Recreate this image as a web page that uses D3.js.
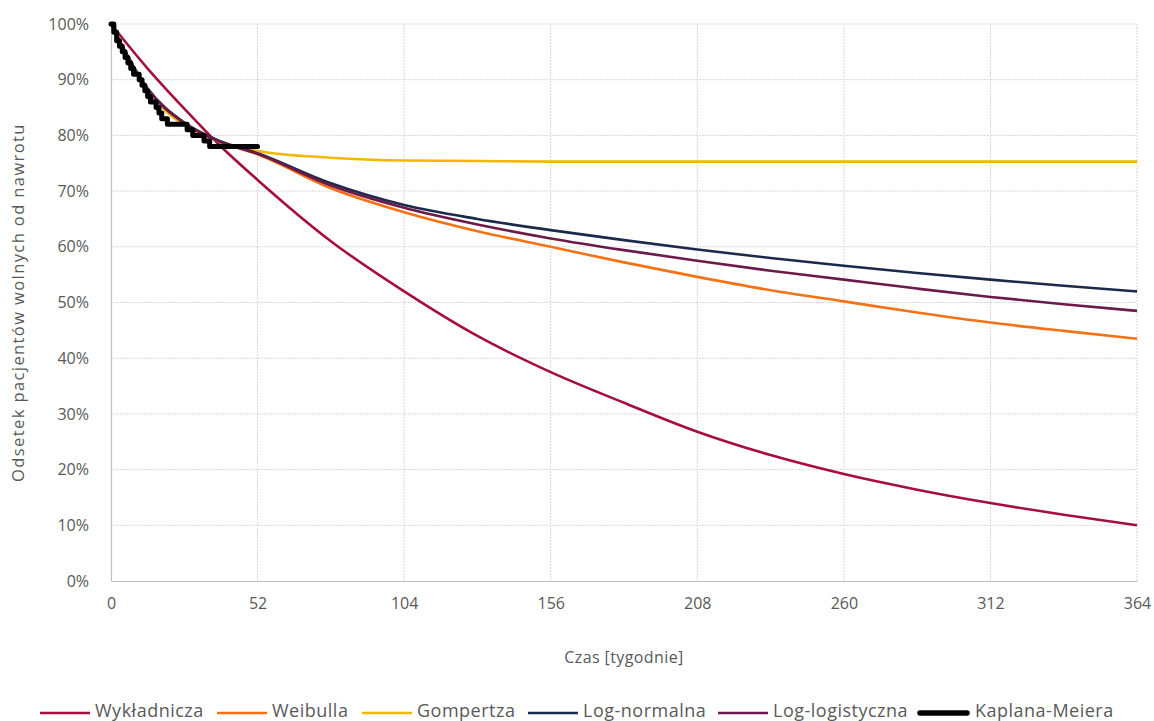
<!DOCTYPE html>
<html>
<head>
<meta charset="utf-8">
<script src="https://cdn.jsdelivr.net/npm/d3@7"></script>
<style>
  body { margin: 0; background: #fff; }
  text { font-family: "Open Sans", "Noto Sans", sans-serif; fill: #595959; }
</style>
</head>
<body>
<div id="chart"></div>
<script>
const weeks = [0, 13, 26, 39, 52, 78, 104, 130, 156, 182, 208, 234, 260, 286, 312, 338, 364];

// survival (%) per model
const wykladnicza = [100, 92, 84.8, 78, 72, 61, 52, 44, 37.5, 32, 26.8, 22.6, 19.2, 16.4, 14, 11.9, 10];
const weibulla = [100, 88.2, 82.2, 78.8, 76.6, 70.5, 66.2, 62.8, 60, 57.2, 54.6, 52.2, 50.2, 48.2, 46.4, 44.9, 43.5];
const gompertza = [100, 88, 81.8, 78.8, 77.2, 76, 75.5, 75.4, 75.3, 75.3, 75.3, 75.3, 75.3, 75.3, 75.3, 75.3, 75.3];
const logNormalna = [100, 88.4, 82.3, 78.9, 76.8, 71.4, 67.5, 65, 63, 61.2, 59.5, 58, 56.6, 55.3, 54.1, 53, 52];
const logLogistyczna = [100, 88.3, 82.2, 78.8, 76.7, 71, 67, 64, 61.5, 59.4, 57.5, 55.7, 54.1, 52.5, 51, 49.7, 48.5];

// Kaplan-Meier steps (week, survival %)
const kmWeeks = [0, 1, 2, 3, 4, 5, 6, 7, 8, 10, 11, 12, 13, 14, 16, 17, 18, 20, 27, 29, 33, 35, 52];
const kmValues = [100, 98.5, 97, 96, 95, 94, 93, 92, 91, 90, 89, 88, 87, 86, 85, 84, 83, 82, 81, 80, 79, 78, 78];

const series = [
  { name: "Wykładnicza", values: wykladnicza, color: "#a50f3c" },
  { name: "Weibulla", values: weibulla, color: "#f57214" },
  { name: "Gompertza", values: gompertza, color: "#f2b705" },
  { name: "Log-normalna", values: logNormalna, color: "#1b2a4a" },
  { name: "Log-logistyczna", values: logLogistyczna, color: "#6b1a4a" },
];

const xTicks = [0, 52, 104, 156, 208, 260, 312, 364];
const yTicks = d3.range(0, 101, 10);

const config = {
  width: 1154,
  height: 721,
  margin: { top: 24, right: 17, bottom: 140, left: 111 },
};

const width = config.width - config.margin.left - config.margin.right;
const height = config.height - config.margin.top - config.margin.bottom;

const root = d3.select("#chart").append("svg")
  .attr("width", config.width)
  .attr("height", config.height);

const svg = root.append("g")
  .attr("transform", `translate(${config.margin.left},${config.margin.top})`);

const x = d3.scaleLinear().domain([0, 364]).range([0, width]);
const y = d3.scaleLinear().domain([0, 100]).range([height, 0]);

// gridlines
svg.append("g")
  .selectAll("line.h")
  .data(yTicks.filter((d) => d > 0))
  .join("line")
  .attr("x1", 0).attr("x2", width)
  .attr("y1", (d) => y(d)).attr("y2", (d) => y(d))
  .attr("stroke", "#d9d9d9")
  .attr("stroke-dasharray", "2,1");

svg.append("g")
  .selectAll("line.v")
  .data(xTicks.filter((d) => d > 0))
  .join("line")
  .attr("x1", (d) => x(d)).attr("x2", (d) => x(d))
  .attr("y1", 0).attr("y2", height)
  .attr("stroke", "#d9d9d9")
  .attr("stroke-dasharray", "2,1");

// axes
const xAxis = svg.append("g")
  .attr("transform", `translate(0,${height})`)
  .call(d3.axisBottom(x).tickValues(xTicks).tickSize(0).tickPadding(17));
xAxis.select(".domain").attr("stroke", "#bfbfbf").attr("stroke-width", 1.2);
xAxis.selectAll("text").style("font-size", "16px").attr("fill", "#595959");

const yAxis = svg.append("g")
  .call(d3.axisLeft(y).tickValues(yTicks).tickFormat((d) => d + "%").tickSize(0).tickPadding(22));
yAxis.select(".domain").attr("stroke", "#bfbfbf").attr("stroke-width", 1.2);
yAxis.selectAll("text").style("font-size", "16px").attr("fill", "#595959");

// axis titles
root.append("text")
  .attr("x", config.margin.left + width / 2)
  .attr("y", 663)
  .attr("text-anchor", "middle")
  .style("font-size", "16px")
  .style("letter-spacing", "0.4px")
  .text("Czas [tygodnie]");

root.append("text")
  .attr("transform", `translate(24,${config.margin.top + height / 2}) rotate(-90)`)
  .attr("text-anchor", "middle")
  .style("font-size", "16.5px")
  .style("letter-spacing", "1.4px")
  .text("Odsetek pacjentów wolnych od nawrotu");

// fitted curves
const line = d3.line()
  .x((d, i) => x(weeks[i]))
  .y((d) => y(d))
  .curve(d3.curveMonotoneX);

svg.append("g")
  .selectAll("path")
  .data(series)
  .join("path")
  .attr("d", (s) => line(s.values))
  .attr("fill", "none")
  .attr("stroke", (s) => s.color)
  .attr("stroke-width", 2.6);

// Kaplan-Meier
const kmLine = d3.line()
  .x((d, i) => x(kmWeeks[i]))
  .y((d) => y(d))
  .curve(d3.curveStepAfter);

svg.append("path")
  .attr("d", kmLine(kmValues))
  .attr("fill", "none")
  .attr("stroke", "#000")
  .attr("stroke-width", 5)
  .attr("stroke-linecap", "round")
  .attr("stroke-linejoin", "round");

// legend
const legendItems = [
  ...series.map((s) => ({ name: s.name, color: s.color, w: 2.6 })),
  { name: "Kaplana-Meiera", color: "#000", w: 5.5 },
];
const legendX = [40, 217, 362, 528, 718, 917];
const legend = root.append("g").attr("transform", "translate(0,713)");
legendItems.forEach((d, i) => {
  const g = legend.append("g").attr("transform", `translate(${legendX[i]},0)`);
  const len = d.w > 3 ? 53 : 50;
  g.append("line")
    .attr("x1", d.w > 3 ? 3 : 0).attr("x2", len - (d.w > 3 ? 3 : 0))
    .attr("y1", 0).attr("y2", 0)
    .attr("stroke", d.color)
    .attr("stroke-width", d.w)
    .attr("stroke-linecap", d.w > 3 ? "round" : "butt");
  g.append("text")
    .attr("x", len + 5)
    .attr("y", -2)
    .attr("dy", "0.35em")
    .style("font-size", "18px")
    .style("letter-spacing", "0.5px")
    .text(d.name);
});
</script>
</body>
</html>
